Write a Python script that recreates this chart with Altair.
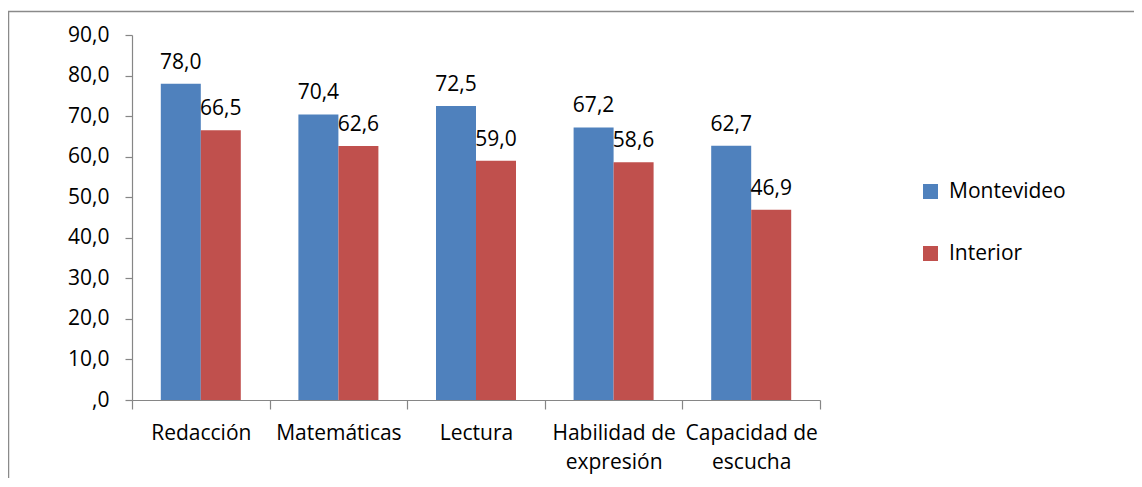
import altair as alt
import pandas as pd

categories = ["Redacción", "Matemáticas", "Lectura", "Habilidad de expresión", "Capacidad de escucha"]
series = ["Montevideo", "Interior"]
montevideo = [78.0, 70.4, 72.5, 67.2, 62.7]
interior = [66.5, 62.6, 59.0, 58.6, 46.9]
colors = ["#4F81BD", "#C0504D"]
y_ticks = [0, 10, 20, 30, 40, 50, 60, 70, 80, 90]

rows = []
for i, c in enumerate(categories):
    for s, vals in zip(series, [montevideo, interior]):
        v = vals[i]
        rows.append({"cat": c, "serie": s, "valor": v,
                     "etiqueta": f"{v:.1f}".replace(".", ",")})
df = pd.DataFrame(rows)

FONT = "Open Sans"
GRAY = "#868686"
FS = 21

x = alt.X("cat:N", sort=categories, title=None,
          scale=alt.Scale(paddingInner=0, paddingOuter=0),
          axis=alt.Axis(tickBand="extent", labelAngle=0, tickSize=9,
                        labelPadding=13, labelLineHeight=29,
                        labelBaseline="top",
                        labelExpr="split(replace(datum.label, ' de ', ' de|'), '|')"))
xoff = alt.XOffset("serie:N", sort=series,
                   scale=alt.Scale(paddingInner=0, paddingOuter=0.72))
y = alt.Y("valor:Q", title=None,
          scale=alt.Scale(domain=[0, 90], nice=False),
          axis=alt.Axis(values=y_ticks, grid=False, tickSize=7, labelPadding=16,
                        labelExpr="datum.value == 0 ? ',0' : replace(format(datum.value, '.1f'), '.', ',')"))
color = alt.Color("serie:N", sort=series,
                  scale=alt.Scale(domain=series, range=colors),
                  legend=alt.Legend(orient="none", legendX=788, legendY=146, title=None,
                                    symbolType="square", symbolSize=225,
                                    symbolStrokeWidth=0, labelFontSize=FS,
                                    labelFont=FONT, labelColor="black",
                                    rowPadding=40, labelOffset=8, padding=0))

one = pd.DataFrame({"k": [0]})
frame_top = alt.Chart(one).mark_rule(stroke="#8a8a8a", strokeWidth=1.5).encode(
    x=alt.value(-124), x2=alt.value(1100), y=alt.value(-23.5))
frame_left = alt.Chart(one).mark_rule(stroke="#8a8a8a", strokeWidth=1.5).encode(
    x=alt.value(-123.5), y=alt.value(-24), y2=alt.value(900))

base = alt.Chart(df)
bars = base.mark_bar().encode(x=x, xOffset=xoff, y=y, color=color)
labels = base.mark_text(dy=-15, baseline="alphabetic", fontSize=FS, font=FONT,
                        color="black").encode(x=x, xOffset=xoff, y=y, text="etiqueta:N")

chart = alt.layer(frame_top, frame_left, bars, labels).properties(
    width=688, height=365,
    autosize=alt.AutoSizeParams(type="none"),
    padding={"left": 124, "top": 27, "right": 314, "bottom": 78},
).configure_view(strokeOpacity=0).configure_axis(
    domainColor=GRAY, tickColor=GRAY, labelColor="black",
    labelFontSize=FS, labelFont=FONT, domainWidth=1.2, tickWidth=1.2
)

chart.save("out.html", embed_options={"renderer": "svg", "actions": False})
